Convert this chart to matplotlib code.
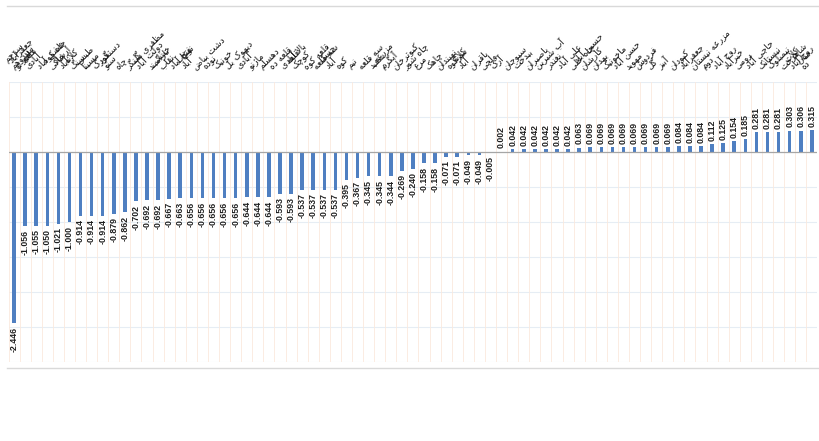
import matplotlib
matplotlib.use("Agg")
import matplotlib.pyplot as plt
from matplotlib.lines import Line2D
from matplotlib import font_manager
import matplotlib.transforms as mtransforms

# ---------------------------------------------------------------- data
villages = [
    "سرچم\nسیدوهم", "جعفرآباد\nقلعه نو", "لاور\nآبادی", "عشق آباد", "چاه کوه\nخاکی",
    "ارشاد\nآباد", "کلاته\nسنگ", "طبس\nمسینا", "فورگ", "دستگرد\nسنو",
    "چاه", "مظفری سنگر", "گل\nدولت آباد", "نارامبند", "خشک\nنقاب",
    "فتح آباد", "نوغاب\nآباد", "دشت بیاض", "نوده", "خونیک",
    "دیهوک بل", "آبادی", "ماژنو", "دهسلم", "قلعه ده",
    "بالا آبادی", "قلعه\nکوچک", "قلعه کوه", "سه قلعه", "جسک\nآباد",
    "کوه", "نیم", "سه قلعه", "سفید", "مزرعه\nآبگرم",
    "کبوترخان", "چاه شور", "مرغ", "چاهک", "نهبندان",
    "سرکوه", "کلاته\nآباد", "باقران", "ولچی", "آرک",
    "سیوجان", "بیدخت", "باصیران", "آب شیرین", "نغندر",
    "علی آباد", "چاه علی", "حسین آباد\nکارشان", "بهدان", "ماخونیک",
    "حسن آباد", "مهوید", "فردوس", "گل", "آبیز",
    "کبودان", "جعفرآباد", "مزرعه نیستان", "دوم", "روح آباد",
    "خیرآباد", "رومی", "حاجی آباد", "نیستانک", "نیمبلوک",
    "شاهرخت", "کلات\nروح آباد", "میان\nده",
]

values = [
    -2.446, -1.056, -1.055, -1.050, -1.021, -1.000, -0.914, -0.914, -0.914, -0.879,
    -0.862, -0.702, -0.692, -0.692, -0.667, -0.663, -0.656, -0.656, -0.656, -0.656,
    -0.656, -0.644, -0.644, -0.644, -0.593, -0.593, -0.537, -0.537, -0.537, -0.537,
    -0.395, -0.367, -0.345, -0.345, -0.344, -0.269, -0.240, -0.158, -0.158, -0.071,
    -0.071, -0.049, -0.049, -0.005,
    0.002, 0.042, 0.042, 0.042, 0.042, 0.042, 0.042, 0.063, 0.069, 0.069,
    0.069, 0.069, 0.069, 0.069, 0.069, 0.069, 0.084, 0.084, 0.084, 0.112,
    0.125, 0.154, 0.185, 0.281, 0.281, 0.281, 0.303, 0.306, 0.315,
]

y_ticks = [-3.0, -2.5, -2.0, -1.5, -1.0, -0.5, 0.0, 0.5, 1.0]

# ------------------------------------------- minimal Persian text shaping
# (isolated, final, initial, medial); right-joining letters have no initial/medial
_FORMS = {
    "ا": ("\uFE8D", "\uFE8E", None, None), "آ": ("\uFE81", "\uFE82", None, None),
    "ب": ("\uFE8F", "\uFE90", "\uFE91", "\uFE92"), "پ": ("\uFB56", "\uFB57", "\uFB58", "\uFB59"),
    "ت": ("\uFE95", "\uFE96", "\uFE97", "\uFE98"), "ث": ("\uFE99", "\uFE9A", "\uFE9B", "\uFE9C"),
    "ج": ("\uFE9D", "\uFE9E", "\uFE9F", "\uFEA0"), "چ": ("\uFB7A", "\uFB7B", "\uFB7C", "\uFB7D"),
    "ح": ("\uFEA1", "\uFEA2", "\uFEA3", "\uFEA4"), "خ": ("\uFEA5", "\uFEA6", "\uFEA7", "\uFEA8"),
    "د": ("\uFEA9", "\uFEAA", None, None), "ذ": ("\uFEAB", "\uFEAC", None, None),
    "ر": ("\uFEAD", "\uFEAE", None, None), "ز": ("\uFEAF", "\uFEB0", None, None),
    "ژ": ("\uFB8A", "\uFB8B", None, None),
    "س": ("\uFEB1", "\uFEB2", "\uFEB3", "\uFEB4"), "ش": ("\uFEB5", "\uFEB6", "\uFEB7", "\uFEB8"),
    "ص": ("\uFEB9", "\uFEBA", "\uFEBB", "\uFEBC"), "ض": ("\uFEBD", "\uFEBE", "\uFEBF", "\uFEC0"),
    "ط": ("\uFEC1", "\uFEC2", "\uFEC3", "\uFEC4"), "ظ": ("\uFEC5", "\uFEC6", "\uFEC7", "\uFEC8"),
    "ع": ("\uFEC9", "\uFECA", "\uFECB", "\uFECC"), "غ": ("\uFECD", "\uFECE", "\uFECF", "\uFED0"),
    "ف": ("\uFED1", "\uFED2", "\uFED3", "\uFED4"), "ق": ("\uFED5", "\uFED6", "\uFED7", "\uFED8"),
    "ک": ("\uFB8E", "\uFB8F", "\uFB90", "\uFB91"), "گ": ("\uFB92", "\uFB93", "\uFB94", "\uFB95"),
    "ل": ("\uFEDD", "\uFEDE", "\uFEDF", "\uFEE0"), "م": ("\uFEE1", "\uFEE2", "\uFEE3", "\uFEE4"),
    "ن": ("\uFEE5", "\uFEE6", "\uFEE7", "\uFEE8"), "و": ("\uFEED", "\uFEEE", None, None),
    "ه": ("\uFEE9", "\uFEEA", "\uFEEB", "\uFEEC"), "ی": ("\uFBFC", "\uFBFD", "\uFBFE", "\uFBFF"),
}
_LAM_ALEF = {"ا": ("\uFEFB", "\uFEFC"), "آ": ("\uFEF5", "\uFEF6")}


def _dual(ch):
    return ch in _FORMS and _FORMS[ch][2] is not None


def shape_line(text):
    out = []
    i, n = 0, len(text)
    while i < n:
        ch = text[i]
        if ch not in _FORMS:
            out.append(ch)
            i += 1
            continue
        prev = text[i - 1] if i > 0 else ""
        joins_prev = _dual(prev)
        if ch == "ل" and i + 1 < n and text[i + 1] in _LAM_ALEF:
            iso, fin = _LAM_ALEF[text[i + 1]]
            out.append(fin if joins_prev else iso)
            i += 2
            continue
        nxt = text[i + 1] if i + 1 < n else ""
        joins_next = _dual(ch) and nxt in _FORMS
        iso, fin, ini, med = _FORMS[ch]
        if joins_prev and joins_next:
            out.append(med)
        elif joins_prev:
            out.append(fin)
        elif joins_next:
            out.append(ini)
        else:
            out.append(iso)
        i += 1
    return "".join(out)[::-1]


def shape(text):
    return "\n".join(shape_line(line) for line in text.split("\n"))


# narrow face for the value labels when one is available
_installed = {f.name for f in font_manager.fontManager.ttflist}
value_font = "Liberation Sans Narrow" if "Liberation Sans Narrow" in _installed else "Liberation Sans"
value_size = 7.0 if value_font == "Liberation Sans Narrow" else 6.3

# ---------------------------------------------------------------- figure
fig = plt.figure(figsize=(8.19, 4.41), dpi=100)
fig.patch.set_facecolor("white")
ax = fig.add_axes([0.0104, 0.179, 0.9876, 0.635])

x = list(range(len(values)))
ax.bar(x, values, width=0.32, color="#4F7FC1", zorder=3)

ax.set_xlim(-0.5, len(values) - 0.5)
ax.set_ylim(y_ticks[0], y_ticks[-1])

# horizontal grid and category separators
for yv in y_ticks:
    if yv != 0:
        ax.axhline(yv, color="#E6EDF4", lw=0.8, zorder=1)
for k in range(len(values) + 1):
    ax.axvline(k - 0.5, color="#FBE9DD", lw=0.6, zorder=1)
ax.axhline(0, color="#A6A6A6", lw=0.9, zorder=4)

for s in ax.spines.values():
    s.set_visible(False)
ax.set_xticks([])
ax.set_yticks([])

# value labels
for xi, v in zip(x, values):
    txt = f"{v:.3f}"
    if v < 0:
        ax.annotate(txt, (xi, v), xytext=(0, -2.5), textcoords="offset points",
                    rotation=90, ha="center", va="top", fontsize=value_size,
                    family=value_font, weight="bold", color="#1F1F1F", zorder=5)
    else:
        ax.annotate(txt, (xi, v), xytext=(0, 2.5), textcoords="offset points",
                    rotation=90, ha="center", va="bottom", fontsize=value_size,
                    family=value_font, weight="bold", color="#1F1F1F", zorder=5)

# category labels along the top edge
trans = mtransforms.blended_transform_factory(ax.transData, ax.transAxes)
for xi, name in zip(x, villages):
    dx = 1 if xi == 0 else -4
    ax.annotate(shape(name), (xi, 1.0), xycoords=trans, xytext=(dx, 8),
                textcoords="offset points", rotation=45, rotation_mode="anchor",
                ha="left", va="bottom", fontsize=6.4, family="DejaVu Sans",
                color="#111111", linespacing=0.9, annotation_clip=False)

# chart frame lines
fig.add_artist(Line2D([0.008, 1.0], [1 - 6 / 441, 1 - 6 / 441], color="#D9D9D9",
                      lw=1.0, transform=fig.transFigure))
fig.add_artist(Line2D([0.008, 1.0], [1 - 368 / 441, 1 - 368 / 441], color="#D9D9D9",
                      lw=1.0, transform=fig.transFigure))

fig.savefig("out.png", dpi=100, facecolor="white")
